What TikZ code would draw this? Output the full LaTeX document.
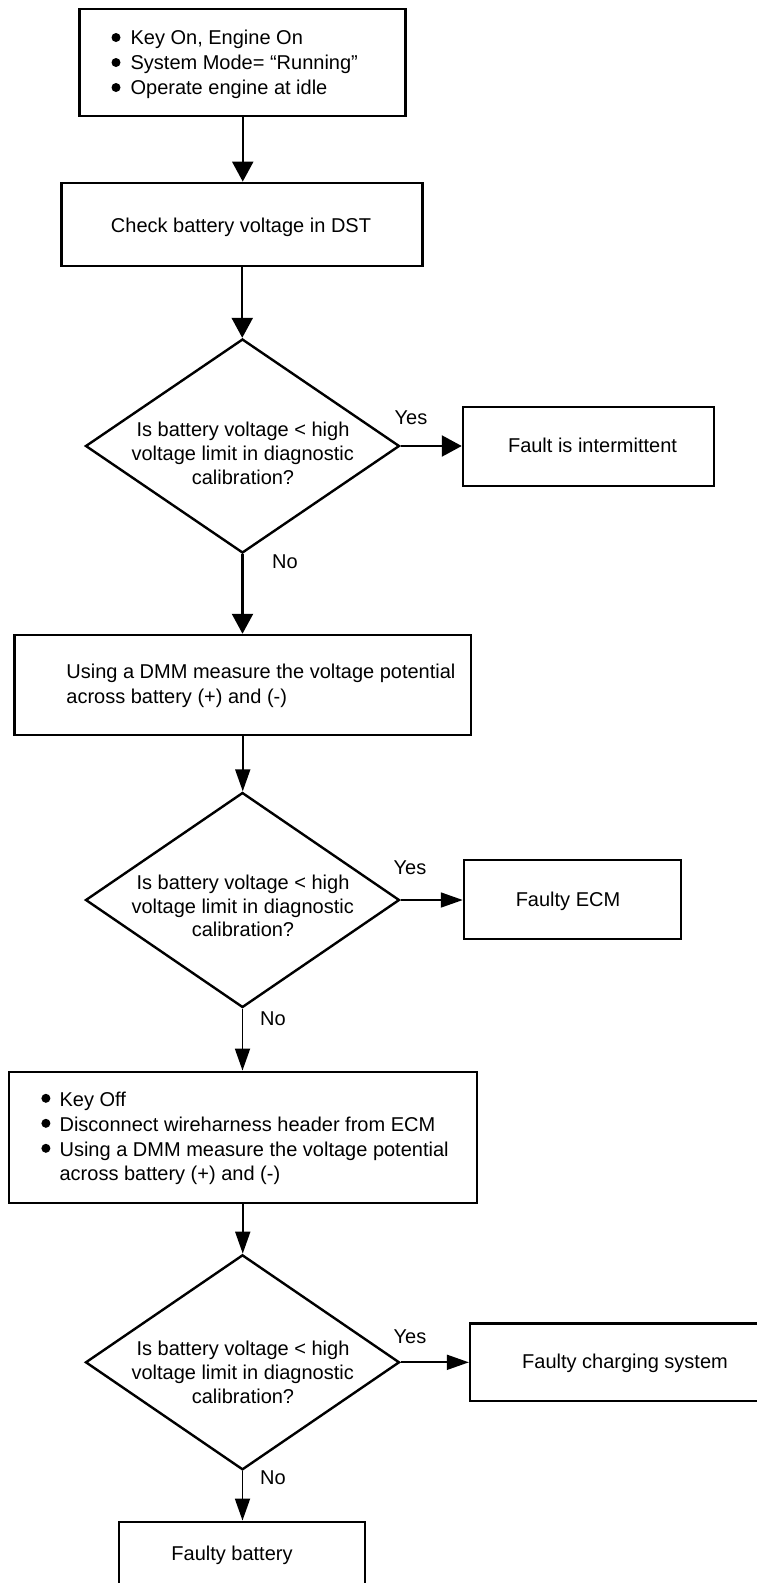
\documentclass[tikz,border=0pt]{standalone}
\usepackage{fontspec}
\setmainfont{Liberation Sans}
\usetikzlibrary{arrows.meta,shapes.geometric}
\begin{document}
\begin{tikzpicture}[x=1pt,y=-1pt,
  box/.style={draw, line width=2.3pt, rectangle, inner sep=0pt},
  topbox/.style={box, line width=2.8pt},
  dia/.style={draw, line width=2.4pt, diamond, inner sep=0pt, minimum width=314pt, minimum height=214pt},
  txt/.style={font=\fontsize{20}{24}\selectfont, inner sep=0pt, anchor=base},
  ltxt/.style={txt, anchor=base west},
  bigarrow/.style={line width=2.4pt, -{Triangle[length=20pt,width=21pt]}},
  smallarrow/.style={line width=1.8pt, -{Triangle[length=22pt,width=15pt]}},
  bul/.style={circle, fill, inner sep=0pt, minimum size=9pt}]
\fill[white, use as bounding box] (0,0) rectangle (757,1583);
\clip (0,0) rectangle (757,1583);

% boxes and decisions
\node[topbox, minimum width=326pt, minimum height=107pt] (b1) at (242.75,62.45) {};
\node[topbox, minimum width=361pt, minimum height=83pt] (b2) at (242.25,224.5) {};
\node[dia] (d1) at (242.5,446) {};
\node[box, minimum width=251pt, minimum height=78.7pt] (b3) at (588.4,446.3) {};
\node[box, line width=2.5pt, minimum width=456.5pt, minimum height=100pt] (b4) at (242.75,685) {};
\node[dia, minimum height=215pt] (d2) at (242.5,900) {};
\node[box, minimum width=217pt, minimum height=79.3pt] (b5) at (572.4,899.6) {};
\node[box, minimum width=468pt, minimum height=131.6pt] (b6) at (242.75,1137.5) {};
\node[dia, minimum height=215pt] (d3) at (242.5,1362.3) {};
\node[box, minimum width=310pt, minimum height=77.7pt] (b7) at (625,1362.2) {};
\node[box, minimum width=245.4pt, minimum height=80pt] (b8) at (242,1561.7) {};

% texts
\node[bul] (b1p1) at (116,37.5) {};
\node[bul] (b1p2) at (116,62.5) {};
\node[bul] (b1p3) at (116,87.5) {};
\node[ltxt] (b1t1) at (130.4,44.6) {Key On, Engine On};
\node[ltxt] (b1t2) at (130.4,69.6) {System Mode= “Running”};
\node[ltxt] (b1t3) at (130.4,94) {Operate engine at idle};

\node[txt] (b2t) at (241,232.1) {Check battery voltage in DST};

\node[txt] (d1t1) at (243,436.4) {Is battery voltage < high};
\node[txt] (d1t2) at (242.7,460.7) {voltage limit in diagnostic};
\node[txt] (d1t3) at (243,484) {calibration?};
\node[txt] (y1) at (411,424) {Yes};
\node[txt] (b3t) at (592.5,452.9) {Fault is intermittent};
\node[txt] (n1) at (285,568) {No};

\node[ltxt] (b4t1) at (66.2,678.3) {Using a DMM measure the voltage potential};
\node[ltxt] (b4t2) at (66.2,703.3) {across battery (+) and (-)};

\node[txt] (d2t1) at (243,889.3) {Is battery voltage < high};
\node[txt] (d2t2) at (242.7,913.3) {voltage limit in diagnostic};
\node[txt] (d2t3) at (243,936.7) {calibration?};
\node[txt] (y2) at (410,874.3) {Yes};
\node[txt] (b5t) at (568,906) {Faulty ECM};
\node[txt] (n2) at (273,1025) {No};

\node[bul] (b6p1) at (45.9,1098.3) {};
\node[bul] (b6p2) at (45.9,1123.3) {};
\node[bul] (b6p3) at (45.9,1148.3) {};
\node[ltxt] (b6t1) at (59.4,1106.7) {Key Off};
\node[ltxt] (b6t2) at (59.4,1131) {Disconnect wireharness header from ECM};
\node[ltxt] (b6t3) at (59.4,1156) {Using a DMM measure the voltage potential};
\node[ltxt] (b6t4) at (59.4,1180) {across battery (+) and (-)};

\node[txt] (d3t1) at (243,1355) {Is battery voltage < high};
\node[txt] (d3t2) at (242.7,1379.3) {voltage limit in diagnostic};
\node[txt] (d3t3) at (243,1403.3) {calibration?};
\node[txt] (y3) at (410,1343.3) {Yes};
\node[txt] (b7t) at (625,1368.3) {Faulty charging system};
\node[txt] (n3) at (273,1484) {No};

\node[txt] (b8t) at (232,1560) {Faulty battery};

% connectors
\draw[bigarrow] (b1.south) -- (b1.south |- b2.north);
\draw[bigarrow] (b2.south) -- (b2.south |- d1.north);
\draw[bigarrow] (d1.east) -- (d1.east -| b3.west);
\draw[bigarrow] (d1.south) -- (d1.south |- b4.north);
\draw[smallarrow] (b4.south) -- (b4.south |- d2.north);
\draw[smallarrow] (d2.east) -- (d2.east -| b5.west);
\draw[smallarrow] (d2.south) -- (d2.south |- b6.north);
\draw[smallarrow] (b6.south) -- (b6.south |- d3.north);
\draw[smallarrow] (d3.east) -- (d3.east -| b7.west);
\draw[smallarrow] (d3.south) -- (d3.south |- b8.north);
\end{tikzpicture}
\end{document}
